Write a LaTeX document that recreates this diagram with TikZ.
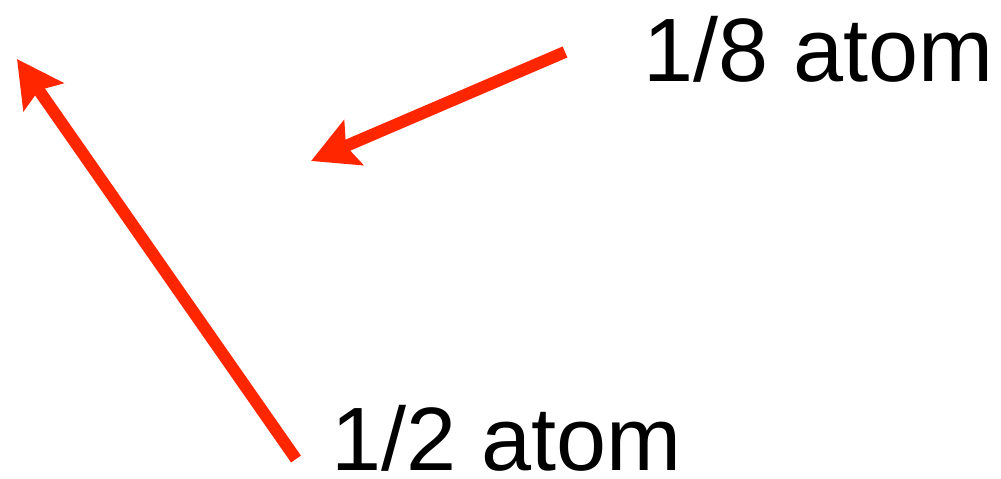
\documentclass[tikz,border=0pt]{standalone}
\usepackage{fontspec}
\setmainfont{Liberation Sans}
\usetikzlibrary{arrows.meta}
\definecolor{arrowred}{RGB}{255,38,0}
\tikzset{
    pointer/.style={-{Stealth[length=23pt, width=24pt, inset=4pt]}, arrowred, line width=6pt},
    label/.style={anchor=base west, inner sep=0pt, font=\fontsize{45}{54}\selectfont}
}
\begin{document}
\begin{tikzpicture}[x=0.5pt, y=-0.5pt]
    \useasboundingbox (0,0) rectangle (1001,478);

    \node[label] (eighth) at (643,81) {1/8 atom};
    \node[label] (half) at (331,470) {1/2 atom};

    \coordinate (eighthtail) at (565,52);
    \coordinate (eighthtip) at (311,161);
    \coordinate (halftail) at (296,459);
    \coordinate (halftip) at (17,59);

    \draw[pointer] (eighthtail) -- (eighthtip);
    \draw[pointer] (halftail) -- (halftip);
\end{tikzpicture}
\end{document}
